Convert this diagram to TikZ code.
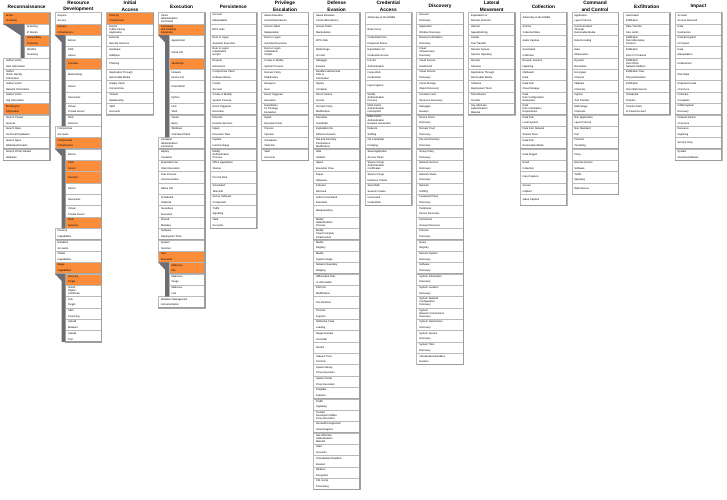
\documentclass[tikz,border=0pt]{standalone}
\usepackage{fontspec}
\setmainfont{Liberation Sans}
\usepackage{xcolor}
\definecolor{attorange}{RGB}{250,140,58}
\definecolor{attbar}{RGB}{108,110,115}
\definecolor{attline}{RGB}{185,185,185}

\tikzset{
  cellbox/.style={draw=attline, line width=0.35pt},
  cellshadow/.style={draw=attline!90!black, line width=0.7pt},
  celltext/.style={anchor=west, inner sep=0pt, align=left, font=\fontsize{2.6}{5.7}\selectfont},
  header/.style={align=center, inner sep=0pt, font=\fontsize{4.8}{6.4}\selectfont\bfseries},
  colshadow/.style={draw=attline!85!black, line width=1.2pt},
  subbar/.style={fill=attbar},
}
% compact line break for three-line names
\newcommand\nl{\\[-2.6pt]}

% one tactic column: #1 name, #2 column number, #3 sub-technique indent, #4 header, #5 kind/text
% kind: 0 technique, 1 marked technique, 2 sub-technique, 3 marked sub-technique
\newcommand\attcolumn[5]{%
  \pgfmathsetmacro\colx{3.3+51.67*#2}
  \node[header] (#1-head) at (\colx+23.35,6.3) {#4};
  \foreach \k/\txt [count=\r from 0] in {#5} {
    \pgfmathsetmacro\ind{(\k>1)*#3}
    \pgfmathsetmacro\celly{12.5+11.36*\r}
    \ifodd\k\def\fillc{attorange}\else\def\fillc{white}\fi
    \draw[cellbox, fill=\fillc] (\colx+\ind,\celly) rectangle (\colx+46.7,\celly+11.36);
    \draw[cellshadow] (\colx+46.7,\celly) -- (\colx+46.7,\celly+11.36) -- (\colx+\ind,\celly+11.36);
    \node[celltext] (#1-\r) at (\colx+\ind+2.5,\celly+5.68) {\txt};
    \xdef\lastrow{\r}\xdef\lastind{\ind}
  }
  \pgfmathsetmacro\colend{12.5+11.36*(\lastrow+1)}
  \draw[colshadow] (\colx+46.7,12.5) -- (\colx+46.7,\colend) -- (\colx+\lastind,\colend);
}

% grey bar in front of the sub-techniques: #1 column, #2 indent, #3 parent row, #4 number of subs
\newcommand\subbar[4]{%
  \pgfmathsetmacro\colx{3.3+51.67*#1}
  \pgfmathsetmacro\bx{\colx+#2}
  \pgfmathsetmacro\ytop{12.5+11.36*(#3+1)}
  \pgfmathsetmacro\ybot{\ytop+11.36*#4}
  \fill[subbar] (\colx,\ytop) -- (\bx,\ytop) -- (\bx,\ybot) -- (\bx-3.8,\ybot) -- (\bx-3.8,\ytop+3+0.4*#2) -- cycle;
}

\begin{document}
\begin{tikzpicture}[x=1pt, y=-1pt]
    \useasboundingbox (0,0) rectangle (727,499);

    % Reconnaissance
    \attcolumn{recon}{0}{21}{Reconnaissance}{
      1/{Active\\Scanning}, 2/{Scanning\\IP Blocks}, 3/{Vulnerability\\Scanning}, 2/{Wordlist\\Scanning},
      0/{Gather Victim\\Host Information}, 0/{Gather\nl Victim Identity\nl Information},
      0/{Gather Victim\\Network Information}, 0/{Gather Victim\\Org Information},
      1/{Phishing for\\Information}, 0/{Search Closed\\Sources}, 0/{Search Open\\Technical Databases},
      0/{Search Open\\Websites/Domains}, 0/{Search Victim-Owned\\Websites}}
    \subbar{0}{21}{0}{3}

    % Resource Development
    \attcolumn{resdev}{1}{10.5}{Resource\\Development}{
      0/{Acquire\\Access}, 1/{Acquire\\Infrastructure},
      2/{Botnet}, 2/{DNS\\Server}, 3/{Domains}, 2/{Malvertising}, 2/{Server}, 2/{Serverless},
      2/{Virtual\\Private Server}, 2/{Web\\Services},
      0/{Compromise\\Accounts}, 1/{Compromise\\Infrastructure},
      2/{Botnet}, 3/{DNS\\Server}, 3/{Domains}, 2/{Server}, 2/{Serverless},
      2/{Virtual\\Private Server}, 3/{Web\\Services},
      0/{Develop\\Capabilities}, 0/{Establish\\Accounts}, 0/{Obtain\\Capabilities}, 1/{Stage\\Capabilities},
      3/{Drive-by\\Target}, 2/{Install\nl Digital\nl Certificate}, 2/{Link\\Target},
      2/{SEO\\Poisoning}, 2/{Upload\\Malware}, 2/{Upload\\Tool}}
    \subbar{1}{10.5}{1}{8}
    \subbar{1}{10.5}{11}{7}
    \subbar{1}{10.5}{22}{6}

    % Initial Access
    \attcolumn{initial}{2}{10.5}{Initial\\Access}{
      1/{Drive-by\\Compromise}, 0/{Exploit\nl Public-Facing\nl Application}, 0/{External\\Remote Services},
      0/{Hardware\\Additions}, 0/{Phishing}, 0/{Replication Through\\Removable Media},
      0/{Supply Chain\\Compromise}, 0/{Trusted\\Relationship}, 0/{Valid\\Accounts}}

    % Execution
    \attcolumn{exec}{3}{10.5}{Execution}{
      0/{Cloud\nl Administration\nl Command}, 1/{Command\nl and Scripting\nl Interpreter},
      2/{AppleScript}, 2/{Cloud API}, 3/{JavaScript}, 2/{Network\\Device CLI}, 2/{PowerShell},
      2/{Python}, 2/{Unix\\Shell}, 2/{Visual\\Basic}, 2/{Windows\\Command Shell},
      0/{Container\nl Administration\nl Command}, 0/{Deploy\\Container}, 0/{Exploitation for\\Client Execution},
      0/{Inter-Process\\Communication}, 0/{Native API}, 0/{Scheduled\\Task/Job}, 0/{Serverless\\Execution},
      0/{Shared\\Modules}, 0/{Software\\Deployment Tools}, 0/{System\\Services}, 1/{User\\Execution},
      3/{Malicious\\File}, 2/{Malicious\\Image}, 2/{Malicious\\Link},
      0/{Windows Management\\Instrumentation}}
    \subbar{3}{10.5}{1}{9}
    \subbar{3}{10.5}{21}{3}

    % Persistence
    \attcolumn{persist}{4}{10.5}{Persistence}{
      0/{Account\\Manipulation}, 0/{BITS Jobs}, 0/{Boot or Logon\\Autostart Execution},
      0/{Boot or Logon\nl Initialization\nl Scripts}, 0/{Browser\\Extensions},
      0/{Compromise Client\\Software Binary}, 0/{Create\\Account}, 0/{Create or Modify\\System Process},
      0/{Event Triggered\\Execution}, 0/{External\\Remote Services}, 0/{Hijack\\Execution Flow},
      0/{Implant\\Internal Image}, 0/{Modify\nl Authentication\nl Process}, 0/{Office Application\\Startup},
      0/{Pre-OS Boot}, 0/{Scheduled\\Task/Job}, 0/{Server Software\\Component},
      0/{Traffic\\Signaling}, 0/{Valid\\Accounts}}

    % Privilege Escalation
    \attcolumn{privesc}{5}{10.5}{Privilege\\Escalation}{
      0/{Abuse Elevation\\Control Mechanism}, 0/{Access Token\\Manipulation},
      0/{Boot or Logon\\Autostart Execution}, 0/{Boot or Logon\nl Initialization\nl Scripts},
      0/{Create or Modify\\System Process}, 0/{Domain Policy\\Modification}, 0/{Escape to\\Host},
      0/{Event Triggered\\Execution}, 0/{Exploitation\nl for Privilege\nl Escalation},
      0/{Hijack\\Execution Flow}, 0/{Process\\Injection}, 0/{Scheduled\\Task/Job}, 0/{Valid\\Accounts}}

    % Defense Evasion
    \attcolumn{evasion}{6}{10.5}{Defense\\Evasion}{
      0/{Abuse Elevation\\Control Mechanism}, 0/{Access Token\\Manipulation}, 0/{BITS Jobs},
      0/{Build Image\\on Host}, 0/{Debugger\\Evasion}, 0/{Deobfuscate/Decode\nl Files or\nl Information},
      0/{Deploy\\Container}, 0/{Direct Volume\\Access}, 0/{Domain Policy\\Modification},
      0/{Execution\\Guardrails}, 0/{Exploitation for\\Defense Evasion},
      0/{File and Directory\nl Permissions\nl Modification}, 0/{Hide\\Artifacts}, 0/{Hijack\\Execution Flow},
      0/{Impair\\Defenses}, 0/{Indicator\\Removal}, 0/{Indirect Command\\Execution}, 0/{Masquerading},
      0/{Modify\nl Authentication\nl Process}, 0/{Modify\nl Cloud Compute\nl Infrastructure},
      0/{Modify\\Registry}, 0/{Modify\\System Image}, 0/{Network Boundary\\Bridging},
      0/{Obfuscated Files\\or Information}, 0/{Plist File\\Modification}, 0/{Pre-OS Boot},
      0/{Process\\Injection}, 0/{Reflective Code\\Loading}, 0/{Rogue Domain\\Controller}, 0/{Rootkit},
      0/{Subvert Trust\\Controls}, 0/{System Binary\\Proxy Execution}, 0/{System Script\\Proxy Execution},
      0/{Template\\Injection}, 0/{Traffic\\Signaling}, 0/{Trusted\nl Developer Utilities\nl Proxy Execution},
      0/{Unused/Unsupported\\Cloud Regions}, 0/{Use Alternate\nl Authentication\nl Material},
      0/{Valid\\Accounts}, 0/{Virtualization/Sandbox\\Evasion}, 0/{Weaken\\Encryption},
      0/{XSL Script\\Processing}}

    % Credential Access
    \attcolumn{cred}{7}{10.5}{Credential\\Access}{
      0/{Adversary-in-the-Middle}, 0/{Brute Force}, 0/{Credentials from\\Password Stores},
      0/{Exploitation for\\Credential Access}, 0/{Forced\\Authentication}, 0/{Forge Web\\Credentials},
      0/{Input Capture}, 0/{Modify\nl Authentication\nl Process},
      0/{Multi-Factor\nl Authentication\nl Interception}, 0/{Multi-Factor\nl Authentication\nl Request Generation},
      0/{Network\\Sniffing}, 0/{OS Credential\\Dumping}, 0/{Steal Application\\Access Token},
      0/{Steal or Forge\nl Authentication\nl Certificates}, 0/{Steal or Forge\\Kerberos Tickets},
      0/{Steal Web\\Session Cookie}, 0/{Unsecured\\Credentials}}

    % Discovery
    \attcolumn{disc}{8}{10.5}{Discovery}{
      0/{Account\\Discovery}, 0/{Application\\Window Discovery}, 0/{Browser Information\\Discovery},
      0/{Cloud\nl Infrastructure\nl Discovery}, 0/{Cloud Service\\Dashboard}, 0/{Cloud Service\\Discovery},
      0/{Cloud Storage\\Object Discovery}, 0/{Container and\\Resource Discovery}, 0/{Debugger\\Evasion},
      0/{Device Driver\\Discovery}, 0/{Domain Trust\\Discovery}, 0/{File and Directory\\Discovery},
      0/{Group Policy\\Discovery}, 0/{Network Service\\Discovery}, 0/{Network Share\\Discovery},
      0/{Network\\Sniffing}, 0/{Password Policy\\Discovery}, 0/{Peripheral\\Device Discovery},
      0/{Permission\\Groups Discovery}, 0/{Process\\Discovery}, 0/{Query\\Registry},
      0/{Remote System\\Discovery}, 0/{Software\\Discovery}, 0/{System Information\\Discovery},
      0/{System Location\\Discovery}, 0/{System Network\nl Configuration\nl Discovery},
      0/{System\nl Network Connections\nl Discovery}, 0/{System Owner/User\\Discovery},
      0/{System Service\\Discovery}, 0/{System Time\\Discovery}, 0/{Virtualization/Sandbox\\Evasion}}

    % Lateral Movement
    \attcolumn{lateral}{9}{10.5}{Lateral\\Movement}{
      0/{Exploitation of\\Remote Services}, 0/{Internal\\Spearphishing}, 0/{Lateral\\Tool Transfer},
      0/{Remote Service\\Session Hijacking}, 0/{Remote\\Services}, 0/{Replication Through\\Removable Media},
      0/{Software\\Deployment Tools}, 0/{Taint Shared\\Content}, 0/{Use Alternate\nl Authentication\nl Material}}

    % Collection
    \attcolumn{collect}{10}{10.5}{Collection}{
      0/{Adversary-in-the-Middle}, 0/{Archive\\Collected Data}, 0/{Audio Capture}, 0/{Automated\\Collection},
      0/{Browser Session\\Hijacking}, 0/{Clipboard\\Data}, 0/{Data from\\Cloud Storage},
      0/{Data\nl from Configuration\nl Repository}, 0/{Data\nl from Information\nl Repositories},
      0/{Data from\\Local System}, 0/{Data from Network\\Shared Drive}, 0/{Data from\\Removable Media},
      0/{Data Staged}, 0/{Email\\Collection}, 0/{Input Capture}, 0/{Screen\\Capture}, 0/{Video Capture}}

    % Command and Control
    \attcolumn{c2}{11}{10.5}{Command\\and Control}{
      0/{Application\\Layer Protocol}, 0/{Communication\nl Through\nl Removable Media}, 0/{Data Encoding},
      0/{Data\\Obfuscation}, 0/{Dynamic\\Resolution}, 0/{Encrypted\\Channel}, 0/{Fallback\\Channels},
      0/{Ingress\\Tool Transfer}, 0/{Multi-Stage\\Channels}, 0/{Non-Application\\Layer Protocol},
      0/{Non-Standard\\Port}, 0/{Protocol\\Tunneling}, 0/{Proxy}, 0/{Remote Access\\Software},
      0/{Traffic\\Signaling}, 0/{Web Service}}

    % Exfiltration
    \attcolumn{exfil}{12}{10.5}{Exfiltration}{
      0/{Automated\\Exfiltration}, 0/{Data Transfer\\Size Limits}, 0/{Exfiltration\nl Over Alternative\nl Protocol},
      0/{Exfiltration\\Over C2 Channel}, 0/{Exfiltration\nl Over Other\nl Network Medium},
      0/{Exfiltration Over\\Physical Medium}, 0/{Exfiltration\\Over Web Service},
      0/{Scheduled\\Transfer}, 0/{Transfer Data\\to Cloud Account}}

    % Impact
    \attcolumn{impact}{13}{10.5}{Impact}{
      0/{Account\\Access Removal}, 0/{Data\\Destruction}, 0/{Data Encrypted\\for Impact},
      0/{Data\\Manipulation}, 0/{Defacement}, 0/{Disk Wipe}, 0/{Endpoint Denial\\of Service},
      0/{Firmware\\Corruption}, 0/{Inhibit System\\Recovery}, 0/{Network Denial\\of Service},
      0/{Resource\\Hijacking}, 0/{Service Stop}, 0/{System\\Shutdown/Reboot}}
\end{tikzpicture}
\end{document}
